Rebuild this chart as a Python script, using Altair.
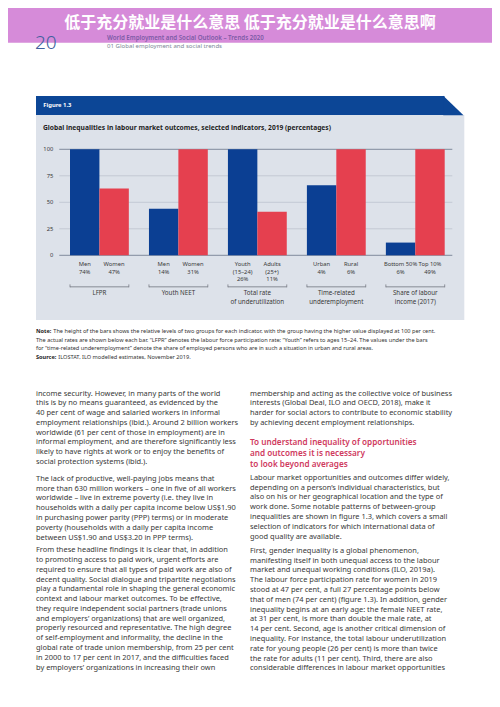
import altair as alt
import pandas as pd

# ---------------- data ----------------
indicators = ["LFPR", "Youth NEET", "Total rate of underutilization",
              "Time-related underemployment", "Share of labour income (2017)"]
indicator_labels = ["LFPR", "Youth NEET", "Total rate\nof underutilization",
                    "Time-related\nunderemployment", "Share of labour\nincome (2017)"]
first_groups = ["Men", "Men", "Youth\n(15–24)", "Urban", "Bottom 50%"]
second_groups = ["Women", "Women", "Adults\n(25+)", "Rural", "Top 10%"]
first_rates = ["74%", "14%", "26%", "4%", "6%"]
second_rates = ["47%", "31%", "11%", "6%", "49%"]
first_heights = [100, 44, 100, 66, 12]
second_heights = [63, 100, 41, 100, 100]
y_ticks = [0, 25, 50, 75, 100]

banner_title = "低于充分就业是什么意思 低于充分就业是什么意思啊"
page_number = "20"
running_head_1 = "World Employment and Social Outlook – Trends 2020"
running_head_2 = "01  Global employment and social trends"
figure_label = "Figure 1.3"
chart_title = "Global inequalities in labour market outcomes, selected indicators, 2019 (percentages)"

note_bold = "Note:"
note_lines = [
    "The height of the bars shows the relative levels of two groups for each indicator, with the group having the higher value displayed at 100 per cent.",
]
note_more_lines = [
    "The actual rates are shown below each bar. “LFPR” denotes the labour force participation rate; “Youth” refers to ages 15–24. The values under the bars",
    "for “time-related underemployment” denote the share of employed persons who are in such a situation in urban and rural areas.",
]
source_bold = "Source:"
source_text = "ILOSTAT, ILO modelled estimates, November 2019."

left_p1 = [
    "income security. However, in many parts of the world",
    "this is by no means guaranteed, as evidenced by the",
    "40 per cent of wage and salaried workers in informal",
    "employment relationships (ibid.). Around 2 billion workers",
    "worldwide (61 per cent of those in employment) are in",
    "informal employment, and are therefore significantly less",
    "likely to have rights at work or to enjoy the benefits of",
    "social protection systems (ibid.).",
]
left_p2 = [
    "The lack of productive, well-paying jobs means that",
    "more than 630 million workers – one in five of all workers",
    "worldwide – live in extreme poverty (i.e. they live in",
    "households with a daily per capita income below US$1.90",
    "in purchasing power parity (PPP) terms) or in moderate",
    "poverty (households with a daily per capita income",
    "between US$1.90 and US$3.20 in PPP terms).",
]
left_p3 = [
    "From these headline findings it is clear that, in addition",
    "to promoting access to paid work, urgent efforts are",
    "required to ensure that all types of paid work are also of",
    "decent quality. Social dialogue and tripartite negotiations",
    "play a fundamental role in shaping the general economic",
    "context and labour market outcomes. To be effective,",
    "they require independent social partners (trade unions",
    "and employers’ organizations) that are well organized,",
    "properly resourced and representative. The high degree",
    "of self-employment and informality, the decline in the",
    "global rate of trade union membership, from 25 per cent",
    "in 2000 to 17 per cent in 2017, and the difficulties faced",
    "by employers’ organizations in increasing their own",
]
right_p1 = [
    "membership and acting as the collective voice of business",
    "interests (Global Deal, ILO and OECD, 2018), make it",
    "harder for social actors to contribute to economic stability",
    "by achieving decent employment relationships.",
]
right_heading = [
    "To understand inequality of opportunities",
    "and outcomes it is necessary",
    "to look beyond averages",
]
right_p2 = [
    "Labour market opportunities and outcomes differ widely,",
    "depending on a person’s individual characteristics, but",
    "also on his or her geographical location and the type of",
    "work done. Some notable patterns of between-group",
    "inequalities are shown in figure 1.3, which covers a small",
    "selection of indicators for which international data of",
    "good quality are available.",
]
right_p3 = [
    "First, gender inequality is a global phenomenon,",
    "manifesting itself in both unequal access to the labour",
    "market and unequal working conditions (ILO, 2019a).",
    "The labour force participation rate for women in 2019",
    "stood at 47 per cent, a full 27 percentage points below",
    "that of men (74 per cent) (figure 1.3). In addition, gender",
    "inequality begins at an early age: the female NEET rate,",
    "at 31 per cent, is more than double the male rate, at",
    "14 per cent. Second, age is another critical dimension of",
    "inequality. For instance, the total labour underutilization",
    "rate for young people (26 per cent) is more than twice",
    "the rate for adults (11 per cent). Third, there are also",
    "considerable differences in labour market opportunities",
]

# ---------------- tables ----------------
rows = []
for i, ind in enumerate(indicators):
    rows.append(dict(indicator=ind, member="first", height=first_heights[i],
                     label=first_groups[i] + "\n" + first_rates[i]))
    rows.append(dict(indicator=ind, member="second", height=second_heights[i],
                     label=second_groups[i] + "\n" + second_rates[i]))
bars_df = pd.DataFrame(rows)
groups_df = pd.DataFrame({"indicator": indicators, "glabel": indicator_labels})
ticks_df = pd.DataFrame({"tick": y_ticks})

# ---------------- styling ----------------
W, H = 484, 691
LATIN = "Noto Sans"
CJK = "Noto Sans CJK SC"
BLUE = "#0b3f93"
RED = "#e5404f"
NAVY = "#0c4696"
PANEL = "#dde2ea"
TEXT = "#383838"


def px(v):
    return v - 8  # page coordinate -> chart coordinate


one = alt.Data(values=[{"k": 1}])


def text_block(lines, x, y_center, size, color=TEXT, weight="normal",
               line_height=None, align="left", font=LATIN):
    lh = line_height if line_height else size * 1.3
    return alt.Chart(alt.Data(values=[{"t": "\n".join(lines)}])).mark_text(
        align=align, baseline="alphabetic", font=font, fontSize=size,
        fontWeight=weight, color=color, lineBreak="\n", lineHeight=lh
    ).encode(text="t:N", x=alt.value(px(x)), y=alt.value(px(y_center + 0.3 * size)))


def rect(x0, x1, y0, y1, color):
    return alt.Chart(one).mark_rect(color=color, strokeWidth=0).encode(
        x=alt.value(px(x0)), x2=alt.value(px(x1)),
        y=alt.value(px(y0)), y2=alt.value(px(y1)))


x_scale = alt.Scale(domain=indicators, range=[px(70), px(444.7)],
                    paddingInner=0.255, paddingOuter=0)
y_scale = alt.Scale(domain=[0, 100], range=[px(255.3), px(149.3)], nice=False)
X = alt.X("indicator:N", scale=x_scale, axis=None)
XO = alt.XOffset("member:N", scale=alt.Scale(domain=["first", "second"],
                                             paddingInner=0, paddingOuter=0))

layers = []

# banner
layers.append(rect(0, 500, 0, 42.7, "#d68bd9"))
layers.append(alt.Chart(one).mark_text(
    text=banner_title, font=CJK, fontSize=16, fontWeight="bold", color="white",
    align="center", baseline="alphabetic"
).encode(x=alt.value(px(250)), y=alt.value(px(27.6))))

# running head
layers.append(alt.Chart(one).mark_text(
    text=page_number, font=LATIN, fontSize=19, fontWeight=300, color="#40609e",
    align="left", baseline="alphabetic"
).encode(x=alt.value(px(35)), y=alt.value(px(49))))
layers.append(text_block([running_head_1], 107, 37.7, 6.15, color="#7d5aa6", weight=600))
layers.append(text_block([running_head_2], 107, 45.7, 6.1, color="#7d8797"))

# figure panel and header
layers.append(rect(36, 464.3, 115, 320, PANEL))
layers.append(rect(36, 444.5, 96, 115, NAVY))
layers.append(alt.Chart(one).mark_point(
    shape="M-1.1,-1L1,1L-1.1,1Z", size=372, filled=True, opacity=1,
    color=NAVY, strokeWidth=0
).encode(x=alt.value(px(453.85)), y=alt.value(px(105.5))))
layers.append(text_block([figure_label], 43.3, 105.7, 5.8, color="white", weight="bold"))
layers.append(text_block([chart_title], 43, 128.3, 6.7, color="#1f1f1f", weight="bold"))

# gridlines and tick labels
layers.append(alt.Chart(ticks_df).mark_rule(strokeWidth=0.7).encode(
    y=alt.Y("tick:Q", scale=y_scale, axis=None),
    x=alt.value(px(59.3)), x2=alt.value(px(452.3)),
    color=alt.condition("datum.tick == 0 || datum.tick == 100",
                        alt.value("#59647a"), alt.value("#b7bfcc"))))
layers.append(alt.Chart(ticks_df).mark_text(
    align="right", baseline="middle", font=LATIN, fontSize=5.8, color=TEXT
).encode(y=alt.Y("tick:Q", scale=y_scale, axis=None), x=alt.value(px(53.3)),
         text="tick:Q"))

# bars
layers.append(alt.Chart(bars_df).mark_bar(strokeWidth=0).encode(
    x=X, xOffset=XO,
    y=alt.Y("height:Q", scale=y_scale, axis=None),
    y2=alt.datum(0),
    color=alt.Color("member:N", scale=alt.Scale(domain=["first", "second"],
                                                range=[BLUE, RED]), legend=None)))

# bar labels
layers.append(alt.Chart(bars_df).mark_text(
    align="center", baseline="alphabetic", font=LATIN, fontSize=5.8, color=TEXT,
    lineBreak="\n", lineHeight=7.5
).encode(x=X, xOffset=XO, y=alt.value(px(264.3 + 1.8)), text="label:N"))

# brackets
layers.append(alt.Chart(groups_df).mark_bar(color="#6b6f78", strokeWidth=0).encode(
    x=X, y=alt.value(px(286.6)), y2=alt.value(px(287.3))))
for bp in (0, 1):
    layers.append(alt.Chart(groups_df).mark_rule(color="#6b6f78", strokeWidth=0.7).encode(
        x=alt.X("indicator:N", scale=x_scale, axis=None, bandPosition=bp),
        y=alt.value(px(284.4)), y2=alt.value(px(287.3))))

# group labels
layers.append(alt.Chart(groups_df).mark_text(
    align="center", baseline="alphabetic", font=LATIN, fontSize=6.2, color=TEXT,
    lineBreak="\n", lineHeight=9.0
).encode(x=X, y=alt.value(px(293.3 + 1.9)), text="glabel:N"))

# note and source
NOTE = 5.6
layers.append(text_block([note_bold], 36, 331.7, NOTE, color="#222222", weight="bold"))
layers.append(text_block(note_lines, 53.3, 331.7, NOTE, color="#333333"))
layers.append(text_block(note_more_lines, 36, 340.0, NOTE, color="#333333", line_height=7.9))
layers.append(text_block([source_bold], 36, 357.3, NOTE, color="#222222", weight="bold"))
layers.append(text_block([source_text], 58.3, 357.3, NOTE, color="#333333"))

# body text
BODY = 7.45
LH = 9.78
layers.append(text_block(left_p1, 36, 393.3, BODY, line_height=LH))
layers.append(text_block(left_p2, 36, 478.7, BODY, line_height=LH))
layers.append(text_block(left_p3, 36, 550.0, BODY, line_height=LH))
layers.append(text_block(right_p1, 250, 393.3, BODY, line_height=LH))
layers.append(text_block(right_heading, 250, 442.7, 8.2, color="#cf3a5e", weight=600, line_height=10.7))
layers.append(text_block(right_p2, 250, 477.7, BODY, line_height=LH))
layers.append(text_block(right_p3, 250, 550.7, BODY, line_height=LH))

chart = alt.layer(*layers).properties(
    width=W, height=H,
    autosize=alt.AutoSizeParams(type="none"),
    padding=0,
    background="white",
).configure_view(stroke=None)

chart.save("out.html", embed_options={"renderer": "svg", "actions": False})
